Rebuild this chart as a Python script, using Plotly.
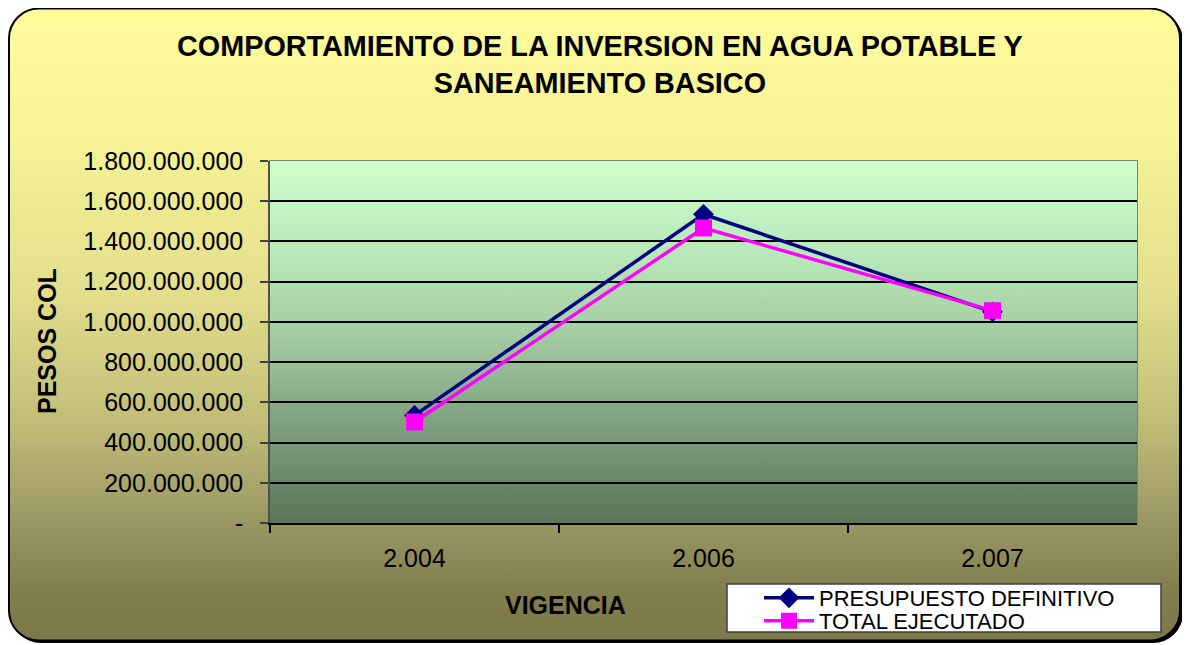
import base64
import plotly.graph_objects as go

# ---------------- data ----------------
years = ["2.004", "2.006", "2.007"]
presupuesto = [535_000_000, 1_535_000_000, 1_050_000_000]
ejecutado = [502_000_000, 1_467_000_000, 1_056_000_000]
tick_vals = [0, 200_000_000, 400_000_000, 600_000_000, 800_000_000,
             1_000_000_000, 1_200_000_000, 1_400_000_000, 1_600_000_000, 1_800_000_000]
tick_text = ["-" if v == 0 else f"{v:,}".replace(",", ".") for v in tick_vals]

title_text = "COMPORTAMIENTO DE LA INVERSION EN AGUA POTABLE Y<br>SANEAMIENTO BASICO"
y_title = "PESOS COL"
x_title = "VIGENCIA"
names = ["PRESUPUESTO DEFINITIVO", "TOTAL EJECUTADO"]

# page body has an 8px margin: the figure is sized/positioned to compensate
OFF = 8
W, H = 1190 - OFF, 645 - OFF
FONT = "Liberation Sans, Arial, sans-serif"


def px(x):
    return (x - OFF) / W


def py(y):
    return 1 - (y - OFF) / H


def svg_uri(svg):
    return "data:image/svg+xml;base64," + base64.b64encode(svg.encode()).decode()


paper_svg = f"""<svg xmlns='http://www.w3.org/2000/svg' width='{W}' height='{H}' viewBox='0 0 {W} {H}' preserveAspectRatio='none'>
<defs><linearGradient id='g' x1='0' y1='0' x2='0' y2='1'>
<stop offset='0' stop-color='#FFFC9C'/>
<stop offset='0.2' stop-color='#F7F396'/>
<stop offset='0.45' stop-color='#E2DE8C'/>
<stop offset='0.65' stop-color='#C2BE78'/>
<stop offset='0.82' stop-color='#999563'/>
<stop offset='0.92' stop-color='#827E4E'/>
<stop offset='1' stop-color='#7C784A'/>
</linearGradient></defs>
<rect x='3' y='3' width='1172' height='632' rx='30' ry='30' fill='#000000'/>
<rect x='1' y='0.5' width='1171' height='632' rx='30' ry='30' fill='url(#g)' stroke='#000000' stroke-width='2'/>
</svg>"""

plot_svg = """<svg xmlns='http://www.w3.org/2000/svg' width='100' height='100' viewBox='0 0 100 100' preserveAspectRatio='none'>
<defs><linearGradient id='p' x1='0' y1='0' x2='0' y2='1'>
<stop offset='0' stop-color='#CCFFCC'/>
<stop offset='0.25' stop-color='#B9E9B9'/>
<stop offset='0.5' stop-color='#A1C9A1'/>
<stop offset='0.75' stop-color='#7C9C7C'/>
<stop offset='1' stop-color='#5B755B'/>
</linearGradient></defs>
<rect x='0' y='0' width='100' height='100' fill='url(#p)'/>
</svg>"""

fig = go.Figure()
fig.add_trace(go.Scatter(
    x=years, y=presupuesto, name=names[0], mode="lines+markers",
    line=dict(color="#000080", width=3.5),
    marker=dict(symbol="diamond", size=16, color="#000080"),
    legend="legend",
))
fig.add_trace(go.Scatter(
    x=years, y=ejecutado, name=names[1], mode="lines+markers",
    line=dict(color="#FF00FF", width=3.5),
    marker=dict(symbol="square", size=17, color="#FF00FF"),
    legend="legend2",
))

leg_common = dict(
    xanchor="left", yanchor="middle",
    bgcolor="rgba(0,0,0,0)", borderwidth=0,
    font=dict(size=22, family=FONT, color="black"),
    itemwidth=50,
)

fig.update_layout(
    width=W, height=H,
    margin=dict(l=0, r=0, t=0, b=0, autoexpand=False),
    paper_bgcolor="white",
    plot_bgcolor="rgba(0,0,0,0)",
    showlegend=True,
    font=dict(family=FONT, color="black"),
    xaxis=dict(
        domain=[px(270), px(1137)], type="category", tickson="boundaries", range=[-0.5, 2.5],
        showgrid=False, showline=True, linecolor="black", linewidth=1.5,
        ticks="outside", ticklen=8, tickwidth=1.5, tickcolor="black",
        tickfont=dict(size=25, family=FONT), ticklabelstandoff=12,
        zeroline=False, fixedrange=True, automargin=False,
    ),
    yaxis=dict(
        domain=[py(523), py(161)], range=[0, 1_800_000_000],
        tickvals=tick_vals, ticktext=tick_text,
        showgrid=True, gridcolor="black", gridwidth=1.5,
        showline=True, linecolor="#505050", linewidth=1.5,
        ticks="outside", ticklen=8, tickwidth=1.5, tickcolor="#404040",
        tickfont=dict(size=25, family=FONT), ticklabelstandoff=12,
        zeroline=False, fixedrange=True, automargin=False,
    ),
    legend=dict(x=px(759), y=py(598), **leg_common),
    legend2=dict(x=px(759), y=py(621), **leg_common),
    images=[
        dict(source=svg_uri(paper_svg), xref="paper", yref="paper",
             x=0, y=1, sizex=1, sizey=1, xanchor="left", yanchor="top",
             sizing="stretch", layer="below"),
        dict(source=svg_uri(plot_svg), xref="x domain", yref="y domain",
             x=0, y=1, sizex=1, sizey=1, xanchor="left", yanchor="top",
             sizing="stretch", layer="below"),
    ],
    shapes=[
        dict(type="rect", xref="x domain", yref="y domain", x0=0, x1=1, y0=0, y1=1,
             line=dict(color="#808080", width=2), fillcolor="rgba(0,0,0,0)", layer="below"),
        dict(type="rect", xref="paper", yref="paper",
             x0=px(727), x1=px(1161), y0=py(632), y1=py(584),
             line=dict(color="#404040", width=1.5), fillcolor="white", layer="below"),
    ],
    annotations=[
        dict(text=f"<b>{title_text}</b>", xref="paper", yref="paper",
             x=px(600), y=py(64.5), xanchor="center", yanchor="middle",
             showarrow=False, font=dict(size=28.8, family=FONT, color="black")),
        dict(text=f"<b>{y_title}</b>", xref="paper", yref="paper",
             x=px(47), y=py(341), xanchor="center", yanchor="middle",
             textangle=-90, showarrow=False, font=dict(size=25, family=FONT, color="black")),
        dict(text=f"<b>{x_title}</b>", xref="paper", yref="paper",
             x=px(565), y=py(605), xanchor="center", yanchor="middle",
             showarrow=False, font=dict(size=25, family=FONT, color="black")),
    ],
)

fig.write_html("out.html")
